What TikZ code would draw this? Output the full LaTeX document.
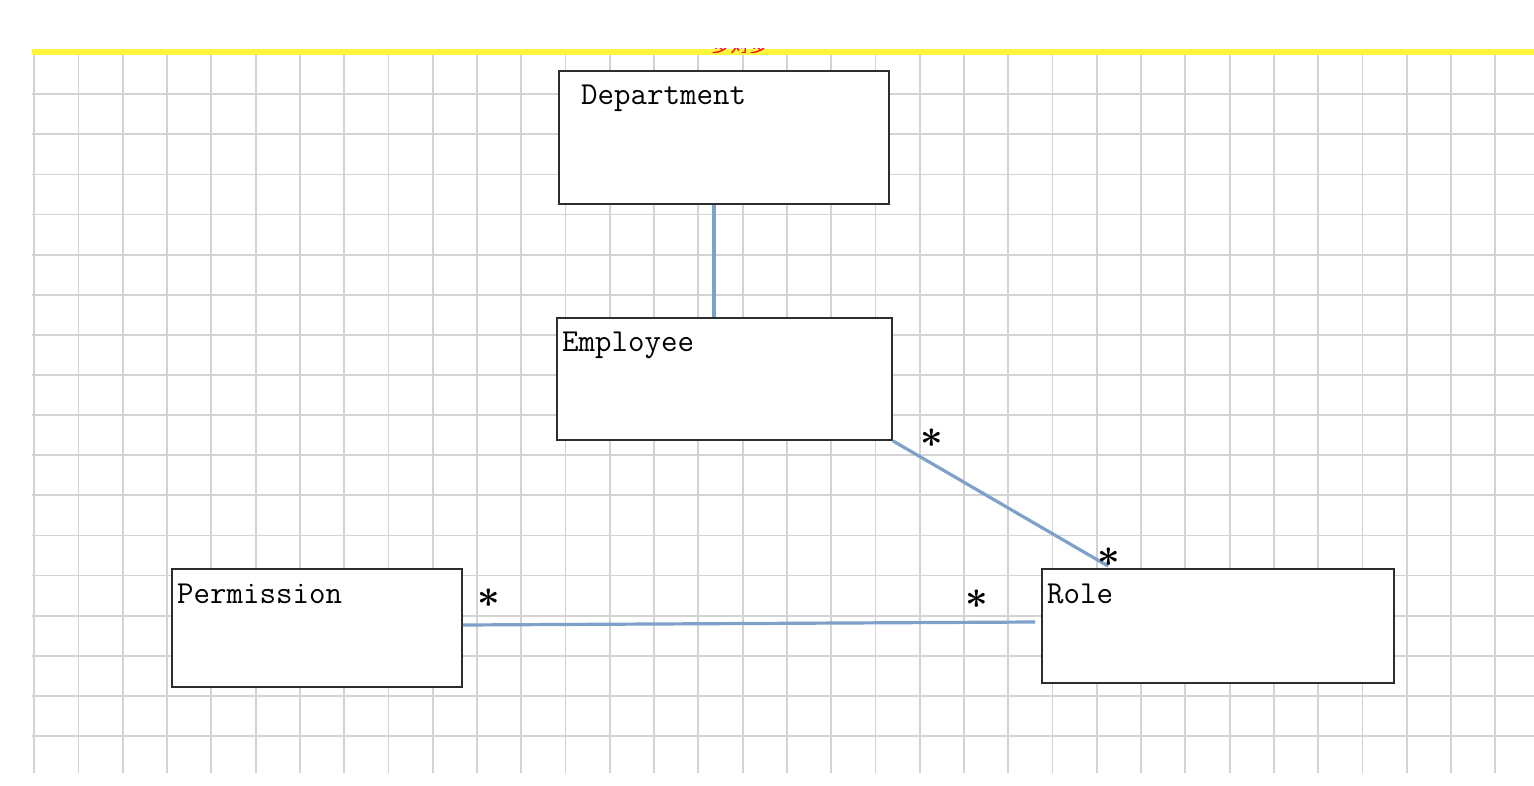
\documentclass[tikz,border=0pt]{standalone}
\usepackage{fontspec}
\usepackage{graphicx}
\newfontfamily\cjkfont{Noto Sans CJK SC}
\usetikzlibrary{calc}
\definecolor{gridgray}{RGB}{211,211,211}
\definecolor{hiyellow}{RGB}{255,245,60}
\definecolor{linkblue}{RGB}{127,160,200}
\definecolor{boxline}{RGB}{45,45,45}
\newcommand{\multstar}{\scalebox{1.9}{$\boldsymbol{\ast}$}}
\usepackage{amsmath}
\tikzset{
  classbox/.style={draw=boxline, line width=1.8pt, fill=white, rectangle, inner sep=0pt},
  classname/.style={anchor=base west, inner sep=0pt, font=\ttfamily\fontsize{32}{32}\selectfont},
  link/.style={draw=linkblue, line width=3.2pt},
  mult/.style={inner sep=0pt, font=\fontsize{20}{20}\selectfont},
}
\begin{document}
\begin{tikzpicture}[x=1pt,y=-1pt]
\useasboundingbox (0,0) rectangle (1534,786);
\fill[white] (0,0) rectangle (1534,786);
% grid
\foreach \k in {0,...,33} {
  \draw[gridgray, line width=1.8pt] ({34.3+44.27*\k},52) -- ({34.3+44.27*\k},773);
}
\foreach \k in {0,...,16} {
  \draw[gridgray, line width=1.8pt] (32,{94.3+40.1*\k}) -- (1534,{94.3+40.1*\k});
}
% yellow band
\fill[hiyellow] (32,49) rectangle (1534,55);
\begin{scope}
  \clip (706,48.5) rectangle (774,53);
  \node[red, inner sep=0pt, anchor=south, font=\cjkfont\fontsize{19}{19}\selectfont] (hint) at (740,54) {多对多};
\end{scope}
% boxes
\node[classbox, minimum width=330pt, minimum height=133pt] (dept) at (724,137.5) {};
\node[classbox, minimum width=335pt, minimum height=122pt] (emp) at (724.5,379) {};
\node[classbox, minimum width=290pt, minimum height=118pt] (perm) at (317,628) {};
\node[classbox, minimum width=352pt, minimum height=114pt] (role) at (1218,626) {};
\node[classname] (depttxt) at (581,105) {Department};
\node[classname] (emptxt) at (562,352) {Employee};
\node[classname] (permtxt) at (177,603) {Permission};
\node[classname] (roletxt) at (1047,603) {Role};
% connectors
\coordinate (deptfoot) at ($(dept.south)+(-10,0)$);
\draw[link] (deptfoot) -- (deptfoot |- emp.north);
\coordinate (roletop) at ($(role.north west)+(67,-2)$);
\draw[link] (emp.south east) -- (roletop);
\coordinate (permend) at ($(perm.east)+(0,-3)$);
\coordinate (roleend) at ($(role.west)+(-6,-4)$);
\draw[link] (permend) -- (roleend);
% multiplicities
\node[mult] (m1) at (932,438) {\multstar};
\node[mult] (m2) at (1109,557) {\multstar};
\node[mult] (m3) at (489,598) {\multstar};
\node[mult] (m4) at (977,599) {\multstar};
\end{tikzpicture}
\end{document}
